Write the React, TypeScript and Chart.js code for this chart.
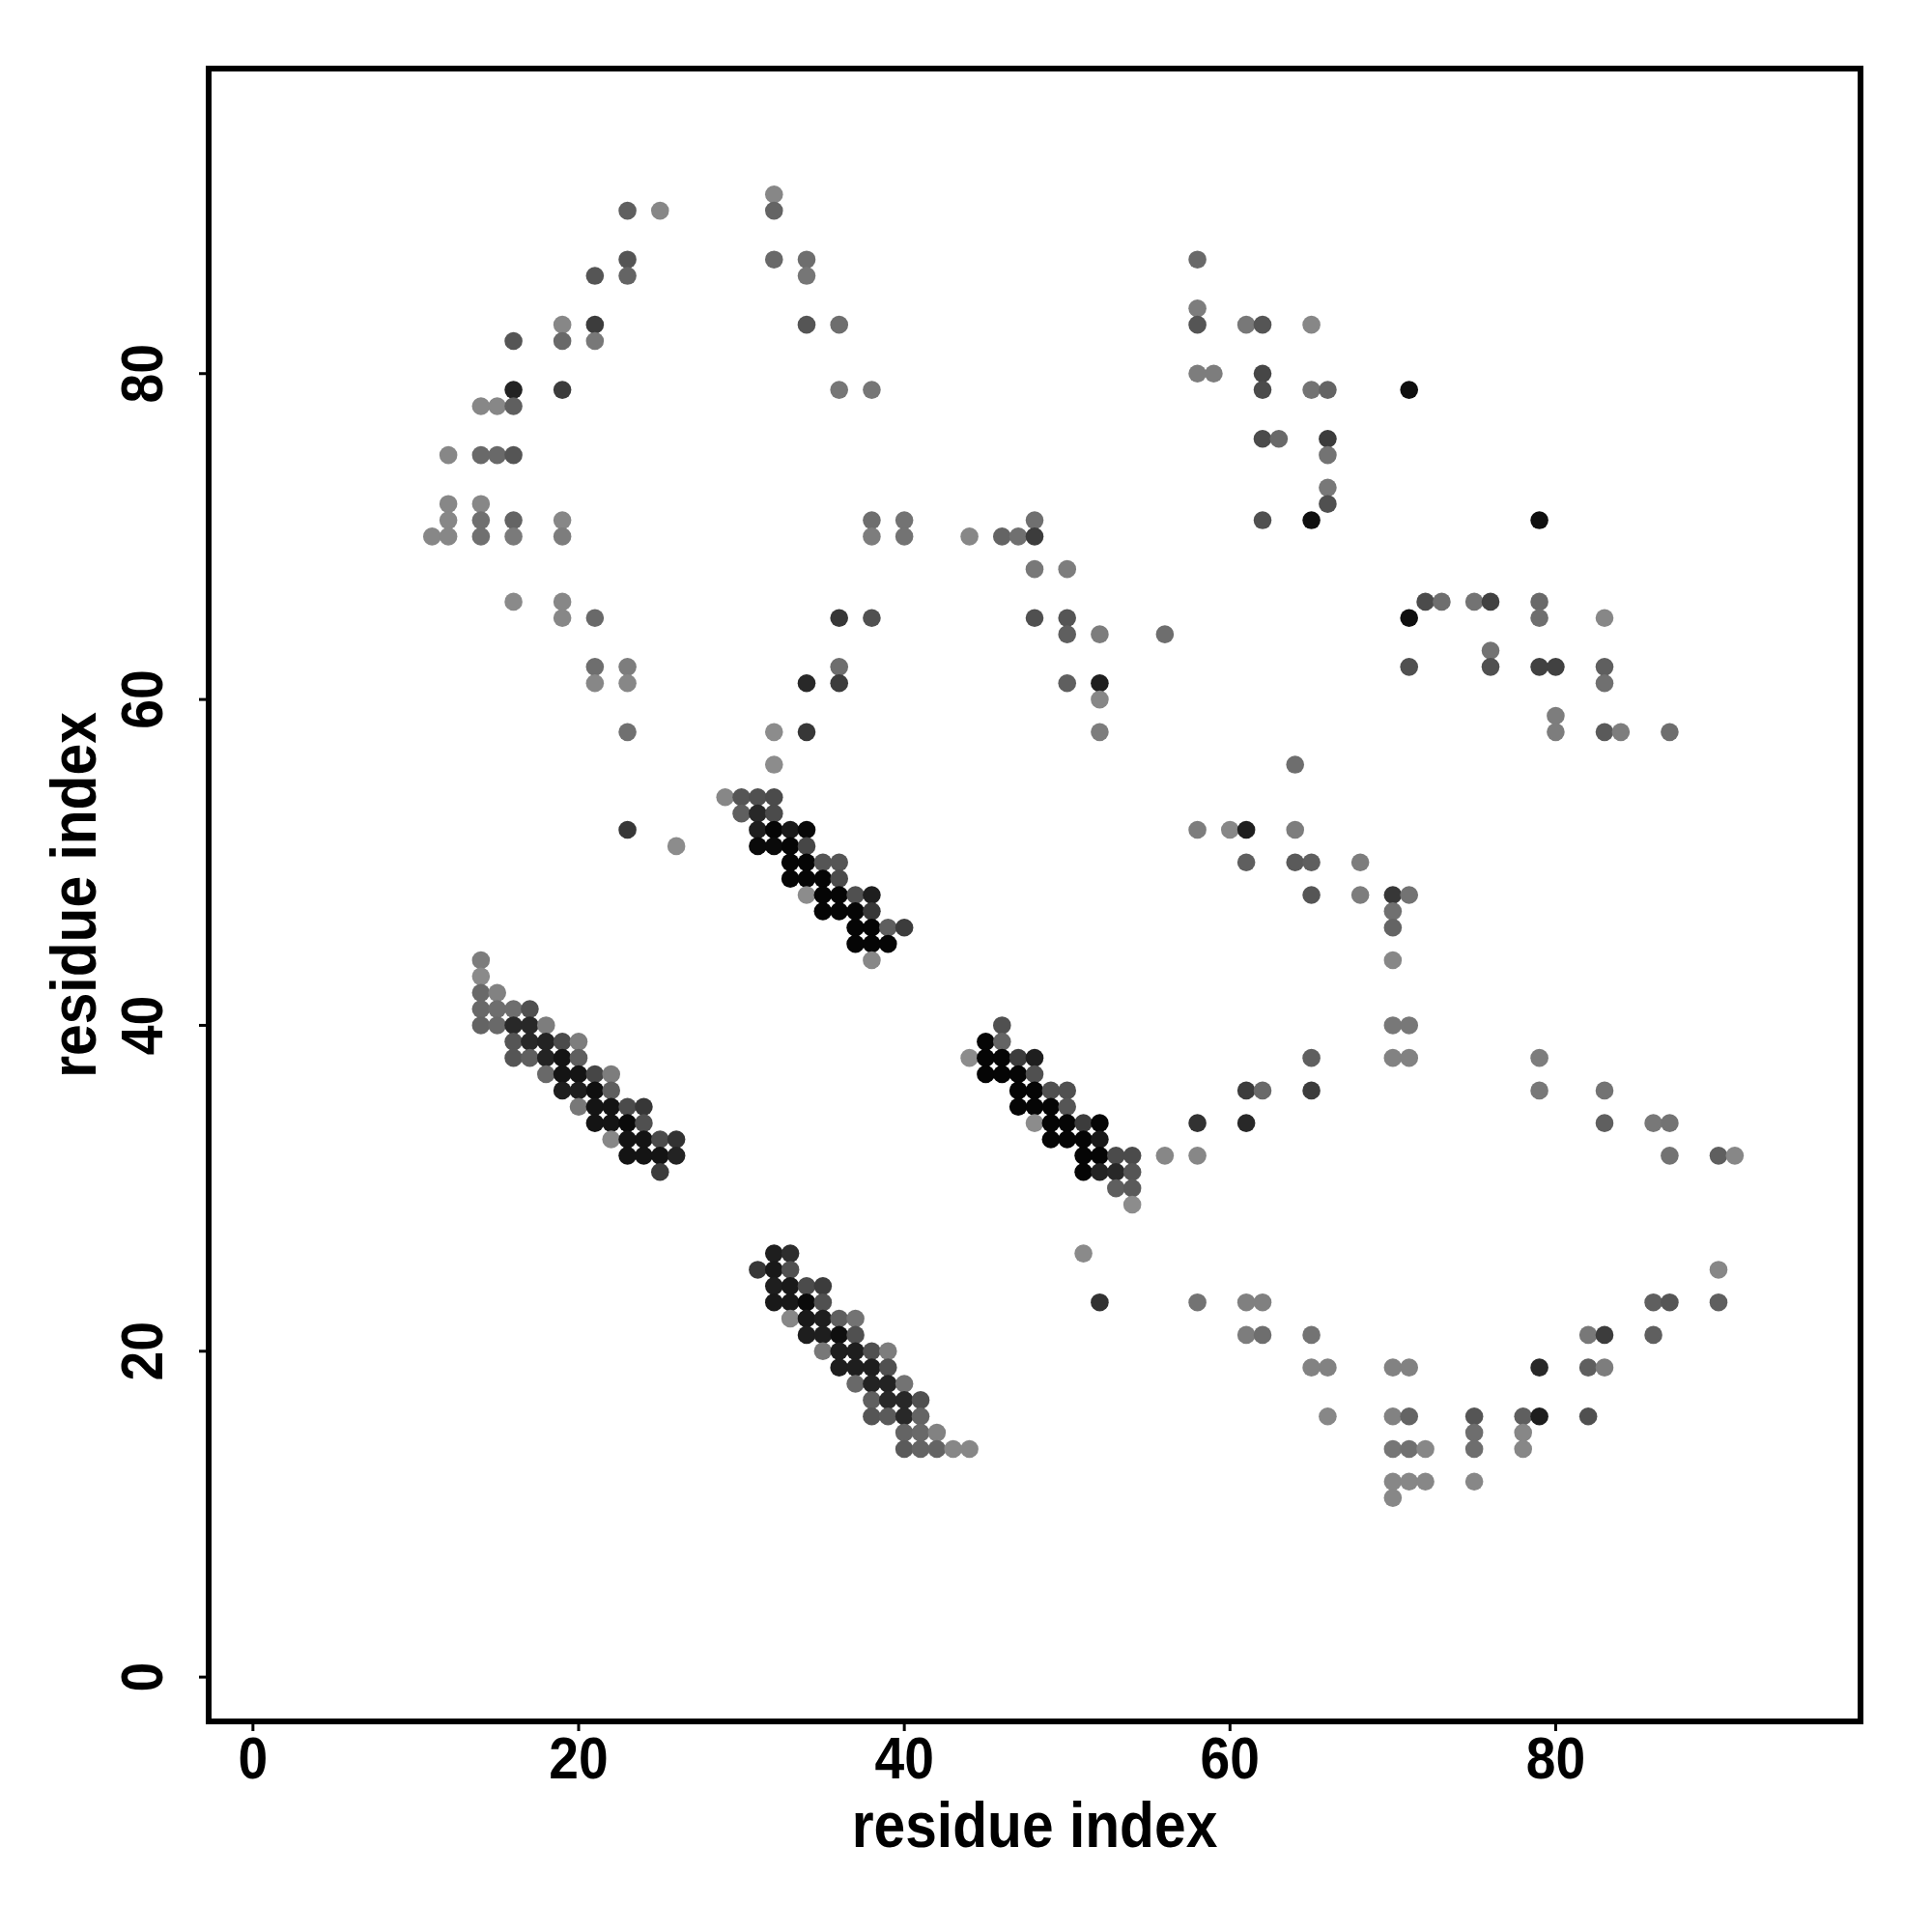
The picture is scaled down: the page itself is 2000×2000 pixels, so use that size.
import { useEffect, useRef } from "react";
import { Chart, registerables } from "chart.js";

Chart.register(...registerables);

// [residue i, residue j, grey level (0 = black, 255 = white)]
const upperLeftContacts: number[][] = [
  [23,90,95],[25,90,135],[32,91,135],[32,90,100],[23,87,85],[21,86,85],[23,86,100],[32,87,105],[34,87,110],[34,86,118],
  [19,83,135],[21,83,60],[16,82,85],[19,82,105],[21,82,120],[34,83,85],[36,83,110],[16,79,35],[19,79,60],[36,79,118],
  [38,79,118],[14,78,135],[15,78,135],[16,78,95],[12,75,135],[14,75,105],[15,75,105],[16,75,85],[12,72,135],[14,72,135],
  [12,71,135],[14,71,112],[16,71,100],[19,71,135],[11,70,135],[12,70,135],[14,70,112],[16,70,122],[19,70,125],[16,66,138],
  [19,66,135],[19,65,135],[21,65,105],[36,65,55],[38,65,80],[21,62,110],[23,62,125],[21,61,135],[23,61,135],[36,62,110],
  [36,61,60],[34,61,40],[23,58,112],[32,58,140],[34,58,55],[32,56,140],[23,52,55],[26,51,140],
];

const sheetPairA: number[][] = [
  [29,54,135],[30,54,85],[31,54,80],[32,54,75],[30,53,95],[31,53,40],[32,53,75],[31,52,30],[32,52,5],[33,52,25],
  [34,52,8],[31,51,10],[32,51,10],[33,51,5],[34,51,70],[33,50,5],[34,50,5],[35,50,85],[36,50,85],[33,49,5],
  [34,49,5],[35,49,5],[36,49,75],[34,48,140],[35,48,5],[36,48,5],[37,48,80],[38,48,30],[35,47,5],[36,47,5],
  [37,47,5],[38,47,55],[37,46,5],[38,46,5],[39,46,95],[40,46,60],[37,45,5],[38,45,5],[39,45,5],[38,44,135],
];

const sheetPairB: number[][] = [
  [14,44,125],[14,43,138],[14,42,105],[15,42,130],[14,41,105],[15,41,110],[16,41,110],[17,41,80],[14,40,100],[15,40,105],
  [16,40,40],[17,40,40],[18,40,125],[16,39,85],[17,39,40],[18,39,35],[19,39,75],[20,39,125],[16,38,85],[17,38,95],
  [18,38,35],[19,38,20],[20,38,95],[18,37,105],[19,37,20],[20,37,20],[21,37,70],[22,37,125],[19,36,30],[20,36,30],
  [21,36,15],[22,36,95],[20,35,120],[21,35,20],[22,35,20],[23,35,75],[24,35,55],[21,34,20],[22,34,20],[23,34,10],
  [24,34,80],[22,33,135],[23,33,20],[24,33,20],[25,33,75],[26,33,50],[23,32,20],[24,32,20],[25,32,20],[26,32,35],
  [25,31,60],
];

const sheetPairC: number[][] = [
  [46,40,80],[45,39,5],[46,39,100],[44,38,140],[45,38,5],[46,38,5],[47,38,60],[48,38,30],[45,37,5],[46,37,5],
  [47,37,5],[48,37,80],[47,36,5],[48,36,5],[49,36,80],[50,36,80],[47,35,5],[48,35,5],[49,35,5],[50,35,85],
  [48,34,140],[49,34,5],[50,34,5],[51,34,60],[52,34,5],[49,33,5],[50,33,5],[51,33,5],[52,33,25],[51,32,5],
  [52,32,5],[53,32,75],[54,32,75],[51,31,5],[52,31,35],[53,31,40],[54,31,85],[53,30,95],[54,30,90],[54,29,140],
];

const sheetPairD: number[][] = [
  [32,26,30],[33,26,45],[31,25,55],[32,25,25],[33,25,80],[32,24,30],[33,24,25],[34,24,75],[35,24,60],[32,23,25],
  [33,23,25],[34,23,10],[35,23,80],[33,22,135],[34,22,25],[35,22,30],[36,22,95],[37,22,115],[34,21,30],[35,21,30],
  [36,21,15],[37,21,80],[35,20,120],[36,20,30],[37,20,30],[38,20,80],[39,20,125],[36,19,30],[37,19,30],[38,19,30],
  [39,19,80],[37,18,105],[38,18,35],[39,18,35],[40,18,115],[38,17,95],[39,17,40],[40,17,40],[41,17,80],[38,16,85],
  [39,16,90],[40,16,40],[41,16,100],[40,15,100],[41,15,105],[42,15,130],[40,14,90],[41,14,100],[42,14,100],[43,14,135],
  [44,14,135],
];

const middleContacts: number[][] = [
  [38,71,110],[38,70,125],[40,71,115],[40,70,115],[44,70,135],[46,70,100],[47,70,112],[48,71,112],[48,70,60],[48,68,120],
  [50,68,125],[48,65,80],[50,65,85],[50,64,95],[52,64,125],[56,64,110],[50,61,95],[52,61,30],[52,60,135],[52,58,125],
];

const upperRightContacts: number[][] = [
  [58,87,105],[58,84,125],[58,83,85],[61,83,120],[62,83,85],[65,83,135],[58,80,125],[59,80,125],[62,80,70],[62,79,75],
  [65,79,115],[66,79,100],[71,79,15],[62,76,75],[63,76,105],[66,76,60],[66,75,115],[66,73,120],[66,72,80],[62,71,80],
  [65,71,15],[79,71,15],
  [71,65,15],[72,66,75],[73,66,110],[75,66,115],[76,66,65],[79,66,105],[79,65,110],[83,65,135],[76,63,115],[76,62,80],
  [71,62,80],[79,62,65],[80,62,65],[83,62,95],[83,61,112],[80,59,125],[80,58,125],[83,58,90],[84,58,125],[87,58,110],
];

const centerRightContacts: number[][] = [
  [64,56,110],[58,52,125],[60,52,135],[61,52,30],[64,52,125],[61,50,95],[64,50,90],[65,50,95],[68,50,125],[65,48,85],
  [68,48,125],[70,48,55],[71,48,115],[70,47,112],[70,46,100],[70,44,135],[70,40,120],[71,40,120],[70,38,130],[71,38,130],
  [79,38,125],[65,38,95],
  [56,32,135],[58,32,135],[58,34,50],[61,34,40],[61,36,60],[62,36,105],[65,36,60],[79,36,120],[83,36,115],[83,34,95],
  [86,34,120],[87,34,115],[87,32,115],[90,32,95],[91,32,135],
];

const lowerRightContacts: number[][] = [
  [51,26,138],[52,23,50],[58,23,115],[61,23,128],[62,23,128],[61,21,125],[62,21,110],[65,21,115],[90,25,135],[90,23,95],
  [86,23,95],[87,23,85],[82,21,120],[83,21,60],[86,21,95],[65,19,130],[66,19,130],[70,19,130],[71,19,130],[79,19,40],
  [82,19,95],[83,19,125],[66,16,135],[70,16,130],[71,16,100],[75,16,85],[78,16,95],[79,16,30],[82,16,80],[75,15,110],
  [78,15,135],[70,14,118],[71,14,112],[72,14,135],[75,14,110],[78,14,135],[70,12,135],[71,12,135],[72,12,135],[75,12,135],
  [70,11,135],
];

const xTickValues = [0, 20, 40, 60, 80];
const yTickValues = [0, 20, 40, 60, 80];
const xAxisTitle = "residue index";
const yAxisTitle = "residue index";
const axisMin = -2.72;
const axisMax = 98.72;

export default function App() {
  const ref = useRef<HTMLCanvasElement>(null);

  useEffect(() => {
    document.body.style.margin = "0";
    const all = [
      ...upperLeftContacts, ...sheetPairA, ...sheetPairB, ...sheetPairC, ...sheetPairD,
      ...middleContacts, ...upperRightContacts, ...centerRightContacts, ...lowerRightContacts,
    ];
    const points = all.map(([x, y]) => ({ x, y }));
    const colors = all.map(([, , g]) => `rgb(${g},${g},${g})`);

    const FONT_FAMILY = '"Liberation Sans", Arial, Helvetica, sans-serif';
    const HSCALE = 0.89;

    const drawText = (ctx: any, text: string, x: number, y: number, rotate: boolean) => {
      ctx.save();
      ctx.translate(x, y);
      if (rotate) ctx.rotate(-Math.PI / 2);
      ctx.scale(HSCALE, 1);
      ctx.fillText(text, 0, 0);
      ctx.restore();
    };

    const frame = {
      id: "frame",
      afterDraw(chart: any) {
        const { ctx, chartArea } = chart;
        const { left, right, top, bottom } = chartArea;
        const xs = chart.scales.x;
        const ys = chart.scales.y;
        ctx.save();
        ctx.strokeStyle = "#000";
        ctx.fillStyle = "#000";
        ctx.lineWidth = 6;
        ctx.strokeRect(left, top, right - left, bottom - top);

        ctx.lineWidth = 3;
        ctx.font = `bold 62px ${FONT_FAMILY}`;
        ctx.textAlign = "center";
        ctx.textBaseline = "alphabetic";
        for (const v of xTickValues) {
          const px = xs.getPixelForValue(v);
          ctx.beginPath();
          ctx.moveTo(px, bottom + 3);
          ctx.lineTo(px, bottom + 10);
          ctx.stroke();
          drawText(ctx, String(v), px, 1841, false);
        }
        for (const v of yTickValues) {
          const py = ys.getPixelForValue(v);
          ctx.beginPath();
          ctx.moveTo(left - 3, py);
          ctx.lineTo(left - 10, py);
          ctx.stroke();
          drawText(ctx, String(v), 168, py, true);
        }

        ctx.font = `bold 66px ${FONT_FAMILY}`;
        drawText(ctx, xAxisTitle, (left + right) / 2, 1912, false);
        drawText(ctx, yAxisTitle, 99, (top + bottom) / 2, true);
        ctx.restore();
      },
    };

    const chart = new Chart(ref.current as HTMLCanvasElement, {
      type: "scatter",
      data: {
        datasets: [
          {
            data: points,
            pointBackgroundColor: colors,
            pointBorderWidth: 0,
            pointRadius: 9.3,
            pointHoverRadius: 9.3,
            showLine: false,
          } as any,
        ],
      },
      options: {
        animation: false,
        responsive: false,
        devicePixelRatio: 1,
        events: [],
        layout: { padding: { left: 0, right: 74, top: 71, bottom: 0 } },
        plugins: { legend: { display: false }, tooltip: { enabled: false } },
        scales: {
          x: {
            type: "linear",
            min: axisMin,
            max: axisMax,
            grid: { display: false },
            border: { display: false },
            ticks: { display: false },
            afterFit(s: any) { s.height = 218; },
          },
          y: {
            type: "linear",
            min: axisMin,
            max: axisMax,
            grid: { display: false },
            border: { display: false },
            ticks: { display: false },
            afterFit(s: any) { s.width = 216; },
          },
        },
      } as any,
      plugins: [frame],
    });
    return () => chart.destroy();
  }, []);

  return <canvas ref={ref} width={2000} height={2000} style={{ display: "block" }} />;
}
